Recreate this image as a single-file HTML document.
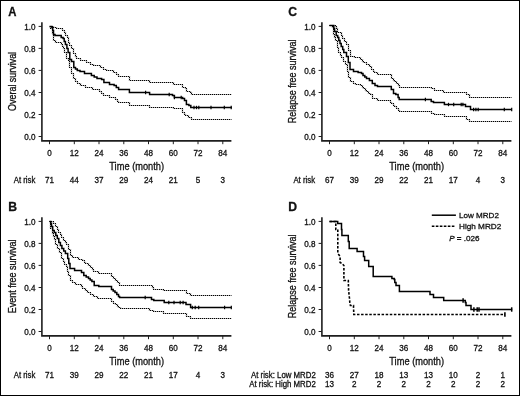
<!DOCTYPE html>
<html><head><meta charset="utf-8"><style>
html,body{margin:0;padding:0;background:#fff;}
#fig{position:relative;width:520px;height:396px;box-sizing:border-box;border:1px solid #000;overflow:hidden;background:#fff;}
svg{position:absolute;left:-1px;top:-1px;will-change:transform;}
text{font-family:"Liberation Sans", sans-serif;fill:#111;stroke:#111;stroke-width:0.3px;}
</style></head><body>
<div id="fig"><svg width="520" height="396" viewBox="0 0 520 396">
<path d="M41.9,22.3 V140.9 H231.4" fill="none" stroke="#1e1e1e" stroke-width="1.6"/>
<line x1="38.6" y1="136.5" x2="41.9" y2="136.5" stroke="#1e1e1e" stroke-width="1"/>
<text x="35.60" y="139.60" text-anchor="end" font-size="8.8" textLength="11.25" lengthAdjust="spacingAndGlyphs">0.0</text>
<line x1="38.6" y1="114.5" x2="41.9" y2="114.5" stroke="#1e1e1e" stroke-width="1"/>
<text x="35.60" y="117.58" text-anchor="end" font-size="8.8" textLength="11.25" lengthAdjust="spacingAndGlyphs">0.2</text>
<line x1="38.6" y1="92.5" x2="41.9" y2="92.5" stroke="#1e1e1e" stroke-width="1"/>
<text x="35.60" y="95.56" text-anchor="end" font-size="8.8" textLength="11.25" lengthAdjust="spacingAndGlyphs">0.4</text>
<line x1="38.6" y1="70.4" x2="41.9" y2="70.4" stroke="#1e1e1e" stroke-width="1"/>
<text x="35.60" y="73.54" text-anchor="end" font-size="8.8" textLength="11.25" lengthAdjust="spacingAndGlyphs">0.6</text>
<line x1="38.6" y1="48.4" x2="41.9" y2="48.4" stroke="#1e1e1e" stroke-width="1"/>
<text x="35.60" y="51.52" text-anchor="end" font-size="8.8" textLength="11.25" lengthAdjust="spacingAndGlyphs">0.8</text>
<line x1="38.6" y1="26.4" x2="41.9" y2="26.4" stroke="#1e1e1e" stroke-width="1"/>
<text x="35.60" y="29.50" text-anchor="end" font-size="8.8" textLength="11.25" lengthAdjust="spacingAndGlyphs">1.0</text>
<line x1="49.5" y1="140.9" x2="49.5" y2="144.2" stroke="#1e1e1e" stroke-width="1"/>
<text x="49.50" y="156.10" text-anchor="middle" font-size="8.8" textLength="4.50" lengthAdjust="spacingAndGlyphs">0</text>
<line x1="74.3" y1="140.9" x2="74.3" y2="144.2" stroke="#1e1e1e" stroke-width="1"/>
<text x="74.26" y="156.10" text-anchor="middle" font-size="8.8" textLength="9.01" lengthAdjust="spacingAndGlyphs">12</text>
<line x1="99.0" y1="140.9" x2="99.0" y2="144.2" stroke="#1e1e1e" stroke-width="1"/>
<text x="99.01" y="156.10" text-anchor="middle" font-size="8.8" textLength="9.01" lengthAdjust="spacingAndGlyphs">24</text>
<line x1="123.8" y1="140.9" x2="123.8" y2="144.2" stroke="#1e1e1e" stroke-width="1"/>
<text x="123.77" y="156.10" text-anchor="middle" font-size="8.8" textLength="9.01" lengthAdjust="spacingAndGlyphs">36</text>
<line x1="148.5" y1="140.9" x2="148.5" y2="144.2" stroke="#1e1e1e" stroke-width="1"/>
<text x="148.53" y="156.10" text-anchor="middle" font-size="8.8" textLength="9.01" lengthAdjust="spacingAndGlyphs">48</text>
<line x1="173.3" y1="140.9" x2="173.3" y2="144.2" stroke="#1e1e1e" stroke-width="1"/>
<text x="173.29" y="156.10" text-anchor="middle" font-size="8.8" textLength="9.01" lengthAdjust="spacingAndGlyphs">60</text>
<line x1="198.0" y1="140.9" x2="198.0" y2="144.2" stroke="#1e1e1e" stroke-width="1"/>
<text x="198.04" y="156.10" text-anchor="middle" font-size="8.8" textLength="9.01" lengthAdjust="spacingAndGlyphs">72</text>
<line x1="222.8" y1="140.9" x2="222.8" y2="144.2" stroke="#1e1e1e" stroke-width="1"/>
<text x="222.80" y="156.10" text-anchor="middle" font-size="8.8" textLength="9.01" lengthAdjust="spacingAndGlyphs">84</text>
<text x="136.7" y="170.3" text-anchor="middle" font-size="10.2" textLength="54.8" lengthAdjust="spacingAndGlyphs">Time (month)</text>
<text transform="translate(15.6,81.4) rotate(-90)" x="0" y="0" text-anchor="middle" font-size="10.2" textLength="59" lengthAdjust="spacingAndGlyphs">Overal survival</text>
<text x="8.3" y="15.7" font-size="12.2" font-weight="bold" textLength="8.19" lengthAdjust="spacingAndGlyphs">A</text>
<text x="13.70" y="182.80" text-anchor="start" font-size="8.8" textLength="21.63" lengthAdjust="spacingAndGlyphs">At risk</text>
<text x="49.50" y="182.80" text-anchor="middle" font-size="8.8" textLength="9.01" lengthAdjust="spacingAndGlyphs">71</text>
<text x="74.26" y="182.80" text-anchor="middle" font-size="8.8" textLength="9.01" lengthAdjust="spacingAndGlyphs">44</text>
<text x="99.01" y="182.80" text-anchor="middle" font-size="8.8" textLength="9.01" lengthAdjust="spacingAndGlyphs">37</text>
<text x="123.77" y="182.80" text-anchor="middle" font-size="8.8" textLength="9.01" lengthAdjust="spacingAndGlyphs">29</text>
<text x="148.53" y="182.80" text-anchor="middle" font-size="8.8" textLength="9.01" lengthAdjust="spacingAndGlyphs">24</text>
<text x="173.29" y="182.80" text-anchor="middle" font-size="8.8" textLength="9.01" lengthAdjust="spacingAndGlyphs">21</text>
<text x="198.04" y="182.80" text-anchor="middle" font-size="8.8" textLength="4.50" lengthAdjust="spacingAndGlyphs">5</text>
<text x="222.80" y="182.80" text-anchor="middle" font-size="8.8" textLength="4.50" lengthAdjust="spacingAndGlyphs">3</text>
<path d="M41.9,217.3 V335.9 H231.4" fill="none" stroke="#1e1e1e" stroke-width="1.6"/>
<line x1="38.6" y1="331.5" x2="41.9" y2="331.5" stroke="#1e1e1e" stroke-width="1"/>
<text x="35.60" y="334.60" text-anchor="end" font-size="8.8" textLength="11.25" lengthAdjust="spacingAndGlyphs">0.0</text>
<line x1="38.6" y1="309.5" x2="41.9" y2="309.5" stroke="#1e1e1e" stroke-width="1"/>
<text x="35.60" y="312.58" text-anchor="end" font-size="8.8" textLength="11.25" lengthAdjust="spacingAndGlyphs">0.2</text>
<line x1="38.6" y1="287.5" x2="41.9" y2="287.5" stroke="#1e1e1e" stroke-width="1"/>
<text x="35.60" y="290.56" text-anchor="end" font-size="8.8" textLength="11.25" lengthAdjust="spacingAndGlyphs">0.4</text>
<line x1="38.6" y1="265.4" x2="41.9" y2="265.4" stroke="#1e1e1e" stroke-width="1"/>
<text x="35.60" y="268.54" text-anchor="end" font-size="8.8" textLength="11.25" lengthAdjust="spacingAndGlyphs">0.6</text>
<line x1="38.6" y1="243.4" x2="41.9" y2="243.4" stroke="#1e1e1e" stroke-width="1"/>
<text x="35.60" y="246.52" text-anchor="end" font-size="8.8" textLength="11.25" lengthAdjust="spacingAndGlyphs">0.8</text>
<line x1="38.6" y1="221.4" x2="41.9" y2="221.4" stroke="#1e1e1e" stroke-width="1"/>
<text x="35.60" y="224.50" text-anchor="end" font-size="8.8" textLength="11.25" lengthAdjust="spacingAndGlyphs">1.0</text>
<line x1="49.5" y1="335.9" x2="49.5" y2="339.2" stroke="#1e1e1e" stroke-width="1"/>
<text x="49.50" y="351.10" text-anchor="middle" font-size="8.8" textLength="4.50" lengthAdjust="spacingAndGlyphs">0</text>
<line x1="74.3" y1="335.9" x2="74.3" y2="339.2" stroke="#1e1e1e" stroke-width="1"/>
<text x="74.26" y="351.10" text-anchor="middle" font-size="8.8" textLength="9.01" lengthAdjust="spacingAndGlyphs">12</text>
<line x1="99.0" y1="335.9" x2="99.0" y2="339.2" stroke="#1e1e1e" stroke-width="1"/>
<text x="99.01" y="351.10" text-anchor="middle" font-size="8.8" textLength="9.01" lengthAdjust="spacingAndGlyphs">24</text>
<line x1="123.8" y1="335.9" x2="123.8" y2="339.2" stroke="#1e1e1e" stroke-width="1"/>
<text x="123.77" y="351.10" text-anchor="middle" font-size="8.8" textLength="9.01" lengthAdjust="spacingAndGlyphs">36</text>
<line x1="148.5" y1="335.9" x2="148.5" y2="339.2" stroke="#1e1e1e" stroke-width="1"/>
<text x="148.53" y="351.10" text-anchor="middle" font-size="8.8" textLength="9.01" lengthAdjust="spacingAndGlyphs">48</text>
<line x1="173.3" y1="335.9" x2="173.3" y2="339.2" stroke="#1e1e1e" stroke-width="1"/>
<text x="173.29" y="351.10" text-anchor="middle" font-size="8.8" textLength="9.01" lengthAdjust="spacingAndGlyphs">60</text>
<line x1="198.0" y1="335.9" x2="198.0" y2="339.2" stroke="#1e1e1e" stroke-width="1"/>
<text x="198.04" y="351.10" text-anchor="middle" font-size="8.8" textLength="9.01" lengthAdjust="spacingAndGlyphs">72</text>
<line x1="222.8" y1="335.9" x2="222.8" y2="339.2" stroke="#1e1e1e" stroke-width="1"/>
<text x="222.80" y="351.10" text-anchor="middle" font-size="8.8" textLength="9.01" lengthAdjust="spacingAndGlyphs">84</text>
<text x="136.7" y="365.3" text-anchor="middle" font-size="10.2" textLength="54.8" lengthAdjust="spacingAndGlyphs">Time (month)</text>
<text transform="translate(15.6,276.4) rotate(-90)" x="0" y="0" text-anchor="middle" font-size="10.2" textLength="73.8" lengthAdjust="spacingAndGlyphs">Event free survival</text>
<text x="8.3" y="210.7" font-size="12.2" font-weight="bold" textLength="8.81" lengthAdjust="spacingAndGlyphs">B</text>
<text x="13.70" y="377.80" text-anchor="start" font-size="8.8" textLength="21.63" lengthAdjust="spacingAndGlyphs">At risk</text>
<text x="49.50" y="377.80" text-anchor="middle" font-size="8.8" textLength="9.01" lengthAdjust="spacingAndGlyphs">71</text>
<text x="74.26" y="377.80" text-anchor="middle" font-size="8.8" textLength="9.01" lengthAdjust="spacingAndGlyphs">39</text>
<text x="99.01" y="377.80" text-anchor="middle" font-size="8.8" textLength="9.01" lengthAdjust="spacingAndGlyphs">29</text>
<text x="123.77" y="377.80" text-anchor="middle" font-size="8.8" textLength="9.01" lengthAdjust="spacingAndGlyphs">22</text>
<text x="148.53" y="377.80" text-anchor="middle" font-size="8.8" textLength="9.01" lengthAdjust="spacingAndGlyphs">21</text>
<text x="173.29" y="377.80" text-anchor="middle" font-size="8.8" textLength="9.01" lengthAdjust="spacingAndGlyphs">17</text>
<text x="198.04" y="377.80" text-anchor="middle" font-size="8.8" textLength="4.50" lengthAdjust="spacingAndGlyphs">4</text>
<text x="222.80" y="377.80" text-anchor="middle" font-size="8.8" textLength="4.50" lengthAdjust="spacingAndGlyphs">3</text>
<path d="M321.9,22.3 V140.9 H511.4" fill="none" stroke="#1e1e1e" stroke-width="1.6"/>
<line x1="318.6" y1="136.5" x2="321.9" y2="136.5" stroke="#1e1e1e" stroke-width="1"/>
<text x="315.60" y="139.60" text-anchor="end" font-size="8.8" textLength="11.25" lengthAdjust="spacingAndGlyphs">0.0</text>
<line x1="318.6" y1="114.5" x2="321.9" y2="114.5" stroke="#1e1e1e" stroke-width="1"/>
<text x="315.60" y="117.58" text-anchor="end" font-size="8.8" textLength="11.25" lengthAdjust="spacingAndGlyphs">0.2</text>
<line x1="318.6" y1="92.5" x2="321.9" y2="92.5" stroke="#1e1e1e" stroke-width="1"/>
<text x="315.60" y="95.56" text-anchor="end" font-size="8.8" textLength="11.25" lengthAdjust="spacingAndGlyphs">0.4</text>
<line x1="318.6" y1="70.4" x2="321.9" y2="70.4" stroke="#1e1e1e" stroke-width="1"/>
<text x="315.60" y="73.54" text-anchor="end" font-size="8.8" textLength="11.25" lengthAdjust="spacingAndGlyphs">0.6</text>
<line x1="318.6" y1="48.4" x2="321.9" y2="48.4" stroke="#1e1e1e" stroke-width="1"/>
<text x="315.60" y="51.52" text-anchor="end" font-size="8.8" textLength="11.25" lengthAdjust="spacingAndGlyphs">0.8</text>
<line x1="318.6" y1="26.4" x2="321.9" y2="26.4" stroke="#1e1e1e" stroke-width="1"/>
<text x="315.60" y="29.50" text-anchor="end" font-size="8.8" textLength="11.25" lengthAdjust="spacingAndGlyphs">1.0</text>
<line x1="329.5" y1="140.9" x2="329.5" y2="144.2" stroke="#1e1e1e" stroke-width="1"/>
<text x="329.50" y="156.10" text-anchor="middle" font-size="8.8" textLength="4.50" lengthAdjust="spacingAndGlyphs">0</text>
<line x1="354.3" y1="140.9" x2="354.3" y2="144.2" stroke="#1e1e1e" stroke-width="1"/>
<text x="354.26" y="156.10" text-anchor="middle" font-size="8.8" textLength="9.01" lengthAdjust="spacingAndGlyphs">12</text>
<line x1="379.0" y1="140.9" x2="379.0" y2="144.2" stroke="#1e1e1e" stroke-width="1"/>
<text x="379.01" y="156.10" text-anchor="middle" font-size="8.8" textLength="9.01" lengthAdjust="spacingAndGlyphs">24</text>
<line x1="403.8" y1="140.9" x2="403.8" y2="144.2" stroke="#1e1e1e" stroke-width="1"/>
<text x="403.77" y="156.10" text-anchor="middle" font-size="8.8" textLength="9.01" lengthAdjust="spacingAndGlyphs">36</text>
<line x1="428.5" y1="140.9" x2="428.5" y2="144.2" stroke="#1e1e1e" stroke-width="1"/>
<text x="428.53" y="156.10" text-anchor="middle" font-size="8.8" textLength="9.01" lengthAdjust="spacingAndGlyphs">48</text>
<line x1="453.3" y1="140.9" x2="453.3" y2="144.2" stroke="#1e1e1e" stroke-width="1"/>
<text x="453.29" y="156.10" text-anchor="middle" font-size="8.8" textLength="9.01" lengthAdjust="spacingAndGlyphs">60</text>
<line x1="478.0" y1="140.9" x2="478.0" y2="144.2" stroke="#1e1e1e" stroke-width="1"/>
<text x="478.04" y="156.10" text-anchor="middle" font-size="8.8" textLength="9.01" lengthAdjust="spacingAndGlyphs">72</text>
<line x1="502.8" y1="140.9" x2="502.8" y2="144.2" stroke="#1e1e1e" stroke-width="1"/>
<text x="502.80" y="156.10" text-anchor="middle" font-size="8.8" textLength="9.01" lengthAdjust="spacingAndGlyphs">84</text>
<text x="416.7" y="170.3" text-anchor="middle" font-size="10.2" textLength="54.8" lengthAdjust="spacingAndGlyphs">Time (month)</text>
<text transform="translate(295.6,81.4) rotate(-90)" x="0" y="0" text-anchor="middle" font-size="10.2" textLength="83.6" lengthAdjust="spacingAndGlyphs">Relapse free survival</text>
<text x="288.3" y="15.7" font-size="12.2" font-weight="bold" textLength="8.81" lengthAdjust="spacingAndGlyphs">C</text>
<text x="293.40" y="182.80" text-anchor="start" font-size="8.8" textLength="21.63" lengthAdjust="spacingAndGlyphs">At risk</text>
<text x="329.50" y="182.80" text-anchor="middle" font-size="8.8" textLength="9.01" lengthAdjust="spacingAndGlyphs">67</text>
<text x="354.26" y="182.80" text-anchor="middle" font-size="8.8" textLength="9.01" lengthAdjust="spacingAndGlyphs">39</text>
<text x="379.01" y="182.80" text-anchor="middle" font-size="8.8" textLength="9.01" lengthAdjust="spacingAndGlyphs">29</text>
<text x="403.77" y="182.80" text-anchor="middle" font-size="8.8" textLength="9.01" lengthAdjust="spacingAndGlyphs">22</text>
<text x="428.53" y="182.80" text-anchor="middle" font-size="8.8" textLength="9.01" lengthAdjust="spacingAndGlyphs">21</text>
<text x="453.29" y="182.80" text-anchor="middle" font-size="8.8" textLength="9.01" lengthAdjust="spacingAndGlyphs">17</text>
<text x="478.04" y="182.80" text-anchor="middle" font-size="8.8" textLength="4.50" lengthAdjust="spacingAndGlyphs">4</text>
<text x="502.80" y="182.80" text-anchor="middle" font-size="8.8" textLength="4.50" lengthAdjust="spacingAndGlyphs">3</text>
<path d="M321.9,217.3 V335.9 H511.4" fill="none" stroke="#1e1e1e" stroke-width="1.6"/>
<line x1="318.6" y1="331.5" x2="321.9" y2="331.5" stroke="#1e1e1e" stroke-width="1"/>
<text x="315.60" y="334.60" text-anchor="end" font-size="8.8" textLength="11.25" lengthAdjust="spacingAndGlyphs">0.0</text>
<line x1="318.6" y1="309.5" x2="321.9" y2="309.5" stroke="#1e1e1e" stroke-width="1"/>
<text x="315.60" y="312.58" text-anchor="end" font-size="8.8" textLength="11.25" lengthAdjust="spacingAndGlyphs">0.2</text>
<line x1="318.6" y1="287.5" x2="321.9" y2="287.5" stroke="#1e1e1e" stroke-width="1"/>
<text x="315.60" y="290.56" text-anchor="end" font-size="8.8" textLength="11.25" lengthAdjust="spacingAndGlyphs">0.4</text>
<line x1="318.6" y1="265.4" x2="321.9" y2="265.4" stroke="#1e1e1e" stroke-width="1"/>
<text x="315.60" y="268.54" text-anchor="end" font-size="8.8" textLength="11.25" lengthAdjust="spacingAndGlyphs">0.6</text>
<line x1="318.6" y1="243.4" x2="321.9" y2="243.4" stroke="#1e1e1e" stroke-width="1"/>
<text x="315.60" y="246.52" text-anchor="end" font-size="8.8" textLength="11.25" lengthAdjust="spacingAndGlyphs">0.8</text>
<line x1="318.6" y1="221.4" x2="321.9" y2="221.4" stroke="#1e1e1e" stroke-width="1"/>
<text x="315.60" y="224.50" text-anchor="end" font-size="8.8" textLength="11.25" lengthAdjust="spacingAndGlyphs">1.0</text>
<line x1="329.5" y1="335.9" x2="329.5" y2="339.2" stroke="#1e1e1e" stroke-width="1"/>
<text x="329.50" y="351.10" text-anchor="middle" font-size="8.8" textLength="4.50" lengthAdjust="spacingAndGlyphs">0</text>
<line x1="354.3" y1="335.9" x2="354.3" y2="339.2" stroke="#1e1e1e" stroke-width="1"/>
<text x="354.26" y="351.10" text-anchor="middle" font-size="8.8" textLength="9.01" lengthAdjust="spacingAndGlyphs">12</text>
<line x1="379.0" y1="335.9" x2="379.0" y2="339.2" stroke="#1e1e1e" stroke-width="1"/>
<text x="379.01" y="351.10" text-anchor="middle" font-size="8.8" textLength="9.01" lengthAdjust="spacingAndGlyphs">24</text>
<line x1="403.8" y1="335.9" x2="403.8" y2="339.2" stroke="#1e1e1e" stroke-width="1"/>
<text x="403.77" y="351.10" text-anchor="middle" font-size="8.8" textLength="9.01" lengthAdjust="spacingAndGlyphs">36</text>
<line x1="428.5" y1="335.9" x2="428.5" y2="339.2" stroke="#1e1e1e" stroke-width="1"/>
<text x="428.53" y="351.10" text-anchor="middle" font-size="8.8" textLength="9.01" lengthAdjust="spacingAndGlyphs">48</text>
<line x1="453.3" y1="335.9" x2="453.3" y2="339.2" stroke="#1e1e1e" stroke-width="1"/>
<text x="453.29" y="351.10" text-anchor="middle" font-size="8.8" textLength="9.01" lengthAdjust="spacingAndGlyphs">60</text>
<line x1="478.0" y1="335.9" x2="478.0" y2="339.2" stroke="#1e1e1e" stroke-width="1"/>
<text x="478.04" y="351.10" text-anchor="middle" font-size="8.8" textLength="9.01" lengthAdjust="spacingAndGlyphs">72</text>
<line x1="502.8" y1="335.9" x2="502.8" y2="339.2" stroke="#1e1e1e" stroke-width="1"/>
<text x="502.80" y="351.10" text-anchor="middle" font-size="8.8" textLength="9.01" lengthAdjust="spacingAndGlyphs">84</text>
<text x="416.7" y="365.3" text-anchor="middle" font-size="10.2" textLength="54.8" lengthAdjust="spacingAndGlyphs">Time (month)</text>
<text transform="translate(295.6,276.4) rotate(-90)" x="0" y="0" text-anchor="middle" font-size="10.2" textLength="83.6" lengthAdjust="spacingAndGlyphs">Relapse free survival</text>
<text x="288.3" y="210.7" font-size="12.2" font-weight="bold" textLength="8.81" lengthAdjust="spacingAndGlyphs">D</text>
<text x="315.80" y="377.50" text-anchor="end" font-size="8.8" textLength="64.84" lengthAdjust="spacingAndGlyphs">At risk: Low MRD2</text>
<text x="329.50" y="377.50" text-anchor="middle" font-size="8.8" textLength="9.01" lengthAdjust="spacingAndGlyphs">36</text>
<text x="354.26" y="377.50" text-anchor="middle" font-size="8.8" textLength="9.01" lengthAdjust="spacingAndGlyphs">27</text>
<text x="379.01" y="377.50" text-anchor="middle" font-size="8.8" textLength="9.01" lengthAdjust="spacingAndGlyphs">18</text>
<text x="403.77" y="377.50" text-anchor="middle" font-size="8.8" textLength="9.01" lengthAdjust="spacingAndGlyphs">13</text>
<text x="428.53" y="377.50" text-anchor="middle" font-size="8.8" textLength="9.01" lengthAdjust="spacingAndGlyphs">13</text>
<text x="453.29" y="377.50" text-anchor="middle" font-size="8.8" textLength="9.01" lengthAdjust="spacingAndGlyphs">10</text>
<text x="478.04" y="377.50" text-anchor="middle" font-size="8.8" textLength="4.50" lengthAdjust="spacingAndGlyphs">2</text>
<text x="502.80" y="377.50" text-anchor="middle" font-size="8.8" textLength="4.50" lengthAdjust="spacingAndGlyphs">1</text>
<text x="315.80" y="386.70" text-anchor="end" font-size="8.8" textLength="66.58" lengthAdjust="spacingAndGlyphs">At risk: High MRD2</text>
<text x="329.50" y="386.70" text-anchor="middle" font-size="8.8" textLength="9.01" lengthAdjust="spacingAndGlyphs">13</text>
<text x="354.26" y="386.70" text-anchor="middle" font-size="8.8" textLength="4.50" lengthAdjust="spacingAndGlyphs">2</text>
<text x="379.01" y="386.70" text-anchor="middle" font-size="8.8" textLength="4.50" lengthAdjust="spacingAndGlyphs">2</text>
<text x="403.77" y="386.70" text-anchor="middle" font-size="8.8" textLength="4.50" lengthAdjust="spacingAndGlyphs">2</text>
<text x="428.53" y="386.70" text-anchor="middle" font-size="8.8" textLength="4.50" lengthAdjust="spacingAndGlyphs">2</text>
<text x="453.29" y="386.70" text-anchor="middle" font-size="8.8" textLength="4.50" lengthAdjust="spacingAndGlyphs">2</text>
<text x="478.04" y="386.70" text-anchor="middle" font-size="8.8" textLength="4.50" lengthAdjust="spacingAndGlyphs">2</text>
<text x="502.80" y="386.70" text-anchor="middle" font-size="8.8" textLength="4.50" lengthAdjust="spacingAndGlyphs">2</text>
<defs><pattern id="chk" width="2" height="2" patternUnits="userSpaceOnUse"><rect x="0" y="0" width="1" height="1" fill="#fff"/><rect x="1" y="1" width="1" height="1" fill="#fff"/><rect x="1" y="0" width="1" height="1" fill="#555"/><rect x="0" y="1" width="1" height="1" fill="#555"/></pattern><mask id="dm" maskUnits="userSpaceOnUse" x="0" y="0" width="520" height="396"><rect x="0" y="0" width="520" height="396" fill="url(#chk)"/></mask></defs>
<g mask="url(#dm)">
<polyline points="49.5,26.5 53.5,26.5 53.5,27.5 56.5,27.5 56.5,28.5 60.5,28.5 62.5,28.5 62.5,30.5 64.5,30.5 64.5,32.5 65.5,32.5 65.5,33.5 65.5,35.5 67.5,35.5 67.5,37.5 68.5,37.5 68.5,38.5 68.5,42.5 69.5,42.5 69.5,45.5 71.5,45.5 71.5,48.5 73.5,48.5 73.5,53.5 75.5,53.5 75.5,56.5 76.5,56.5 76.5,58.5 80.5,58.5 80.5,60.5 86.5,60.5 86.5,62.5 90.5,62.5 90.5,64.5 93.5,64.5 93.5,65.5 100.5,65.5 100.5,67.5 103.5,67.5 103.5,69.5 106.5,69.5 106.5,70.5 113.5,70.5 113.5,72.5 116.5,72.5 116.5,74.5 118.5,74.5 118.5,76.5 127.5,76.5 129.5,76.5 129.5,80.5 148.5,80.5 149.5,80.5 149.5,82.5 172.5,82.5 173.5,82.5 173.5,84.5 181.5,84.5 182.5,84.5 182.5,87.5 185.5,87.5 185.5,88.5 186.5,88.5 186.5,91.5 190.5,91.5 190.5,92.5 191.5,92.5 191.5,94.5 231.5,94.5" fill="none" stroke="#000" stroke-width="1.2"/>
<polyline points="49.5,26.5 50.5,26.5 50.5,28.5 52.5,28.5 52.5,33.5 53.5,33.5 53.5,37.5 53.5,40.5 55.5,40.5 55.5,42.5 58.5,42.5 61.5,42.5 61.5,44.5 62.5,44.5 62.5,46.5 63.5,46.5 63.5,48.5 64.5,48.5 64.5,52.5 66.5,52.5 66.5,58.5 68.5,58.5 68.5,60.5 69.5,60.5 69.5,67.5 71.5,67.5 71.5,73.5 73.5,73.5 73.5,78.5 75.5,78.5 75.5,81.5 77.5,81.5 77.5,83.5 80.5,83.5 80.5,85.5 85.5,85.5 85.5,87.5 92.5,87.5 92.5,89.5 99.5,89.5 99.5,91.5 101.5,91.5 101.5,93.5 103.5,93.5 103.5,95.5 109.5,95.5 109.5,97.5 115.5,97.5 115.5,99.5 117.5,99.5 117.5,101.5 118.5,101.5 118.5,102.5 127.5,102.5 129.5,102.5 129.5,105.5 148.5,105.5 149.5,105.5 149.5,107.5 172.5,107.5 173.5,107.5 173.5,108.5 181.5,108.5 182.5,108.5 182.5,112.5 184.5,112.5 184.5,114.5 185.5,114.5 185.5,115.5 188.5,115.5 188.5,117.5 191.5,117.5 191.5,119.5 231.5,119.5" fill="none" stroke="#000" stroke-width="1.2"/>
<polyline points="49.5,221.5 51.5,221.5 53.5,221.5 53.5,223.5 55.5,223.5 55.5,226.5 57.5,226.5 57.5,229.5 58.5,229.5 58.5,232.5 60.5,232.5 60.5,234.5 61.5,234.5 61.5,237.5 63.5,237.5 63.5,240.5 65.5,240.5 65.5,242.5 66.5,242.5 66.5,244.5 68.5,244.5 68.5,249.5 70.5,249.5 70.5,255.5 72.5,255.5 72.5,257.5 78.5,257.5 78.5,259.5 82.5,259.5 82.5,260.5 84.5,260.5 84.5,262.5 85.5,262.5 85.5,263.5 88.5,263.5 88.5,265.5 90.5,265.5 90.5,267.5 92.5,267.5 92.5,269.5 93.5,269.5 93.5,271.5 98.5,271.5 98.5,273.5 109.5,273.5 111.5,273.5 111.5,276.5 113.5,276.5 113.5,278.5 115.5,278.5 115.5,280.5 117.5,280.5 117.5,282.5 119.5,282.5 119.5,285.5 148.5,285.5 152.5,285.5 152.5,287.5 153.5,287.5 153.5,289.5 162.5,289.5 163.5,289.5 163.5,290.5 186.5,290.5 186.5,293.5 189.5,293.5 190.5,293.5 190.5,295.5 231.5,295.5" fill="none" stroke="#000" stroke-width="1.2"/>
<polyline points="49.5,221.5 50.5,221.5 50.5,224.5 50.5,228.5 52.5,228.5 52.5,233.5 53.5,233.5 53.5,236.5 54.5,236.5 54.5,239.5 55.5,239.5 55.5,242.5 55.5,244.5 57.5,244.5 57.5,248.5 59.5,248.5 59.5,252.5 61.5,252.5 61.5,258.5 63.5,258.5 63.5,261.5 64.5,261.5 64.5,264.5 66.5,264.5 66.5,266.5 67.5,266.5 67.5,271.5 68.5,271.5 68.5,275.5 70.5,275.5 70.5,280.5 72.5,280.5 72.5,282.5 75.5,282.5 75.5,284.5 79.5,284.5 81.5,284.5 81.5,286.5 82.5,286.5 82.5,288.5 85.5,288.5 85.5,290.5 87.5,290.5 87.5,292.5 90.5,292.5 90.5,294.5 93.5,294.5 93.5,296.5 97.5,296.5 97.5,298.5 109.5,298.5 111.5,298.5 111.5,301.5 113.5,301.5 113.5,303.5 115.5,303.5 115.5,304.5 117.5,304.5 117.5,306.5 118.5,306.5 118.5,307.5 120.5,307.5 120.5,308.5 148.5,308.5 149.5,308.5 149.5,310.5 153.5,310.5 153.5,311.5 162.5,311.5 163.5,311.5 163.5,313.5 185.5,313.5 186.5,313.5 186.5,316.5 189.5,316.5 190.5,316.5 190.5,318.5 231.5,318.5" fill="none" stroke="#000" stroke-width="1.2"/>
<polyline points="329.5,25.5 333.5,25.5 335.5,25.5 335.5,26.5 336.5,26.5 336.5,28.5 337.5,28.5 337.5,32.5 340.5,32.5 341.5,32.5 341.5,35.5 342.5,35.5 342.5,38.5 344.5,38.5 344.5,41.5 346.5,41.5 346.5,44.5 348.5,44.5 348.5,46.5 348.5,50.5 350.5,50.5 350.5,56.5 354.5,56.5 354.5,57.5 360.5,57.5 360.5,59.5 362.5,59.5 362.5,61.5 363.5,61.5 363.5,62.5 366.5,62.5 366.5,64.5 369.5,64.5 369.5,66.5 371.5,66.5 371.5,69.5 373.5,69.5 373.5,71.5 374.5,71.5 374.5,72.5 377.5,72.5 377.5,74.5 389.5,74.5 391.5,74.5 391.5,78.5 393.5,78.5 393.5,80.5 394.5,80.5 394.5,81.5 396.5,81.5 396.5,83.5 398.5,83.5 398.5,85.5 399.5,85.5 399.5,87.5 428.5,87.5 431.5,87.5 431.5,88.5 434.5,88.5 434.5,90.5 442.5,90.5 443.5,90.5 443.5,92.5 464.5,92.5 466.5,92.5 466.5,94.5 469.5,94.5 469.5,95.5 469.5,97.5 511.5,97.5" fill="none" stroke="#000" stroke-width="1.2"/>
<polyline points="329.5,25.5 332.5,25.5 332.5,27.5 333.5,27.5 333.5,31.5 333.5,34.5 334.5,34.5 334.5,37.5 335.5,37.5 335.5,40.5 337.5,40.5 337.5,44.5 337.5,47.5 338.5,47.5 338.5,52.5 340.5,52.5 340.5,55.5 341.5,55.5 341.5,57.5 343.5,57.5 343.5,61.5 345.5,61.5 345.5,64.5 347.5,64.5 347.5,71.5 348.5,71.5 348.5,77.5 350.5,77.5 350.5,81.5 353.5,81.5 353.5,83.5 355.5,83.5 355.5,84.5 360.5,84.5 360.5,85.5 362.5,85.5 362.5,87.5 363.5,87.5 363.5,88.5 365.5,88.5 365.5,90.5 366.5,90.5 366.5,91.5 368.5,91.5 368.5,93.5 370.5,93.5 370.5,94.5 372.5,94.5 372.5,98.5 377.5,98.5 377.5,100.5 388.5,100.5 390.5,100.5 390.5,102.5 391.5,102.5 391.5,103.5 393.5,103.5 393.5,105.5 394.5,105.5 394.5,106.5 396.5,106.5 396.5,108.5 398.5,108.5 398.5,110.5 399.5,110.5 399.5,111.5 428.5,111.5 431.5,111.5 431.5,113.5 434.5,113.5 434.5,114.5 442.5,114.5 444.5,114.5 444.5,116.5 464.5,116.5 466.5,116.5 466.5,119.5 469.5,119.5 469.5,121.5 511.5,121.5" fill="none" stroke="#000" stroke-width="1.2"/>
</g>
<polyline points="49.5,26.5 51.9,26.5 51.9,27.5 52.7,27.5 52.7,30.5 53.5,30.5 53.5,34.5 55.0,34.5 55.0,35.5 59.6,35.5 61.2,35.5 61.2,37.5 63.1,37.5 63.1,38.5 64.2,38.5 64.2,41.5 65.4,41.5 65.4,44.5 66.9,44.5 66.9,48.5 68.1,48.5 68.1,52.5 69.8,52.5 69.8,59.5 71.5,59.5 71.5,61.5 73.8,61.5 73.8,67.5 75.5,67.5 75.5,69.0 77.3,69.0 77.3,70.5 80.0,70.5 80.0,71.5 84.5,71.5 84.5,73.5 91.4,73.5 91.4,75.5 94.2,75.5 94.2,77.0 97.0,77.0 97.0,78.5 101.6,78.5 101.6,79.5 103.9,79.5 103.9,82.5 109.5,82.5 109.5,84.5 114.1,84.5 114.1,85.5 116.3,85.5 116.3,87.5 118.6,87.5 118.6,89.5 126.5,89.5 129.4,89.5 129.4,92.5 148.5,92.5 149.6,92.5 149.6,94.5 169.2,94.5 172.5,94.5 172.5,95.5 174.4,95.5 174.4,97.5 180.1,97.5 182.6,97.5 182.6,98.5 184.5,98.5 184.5,100.5 186.4,100.5 186.4,104.5 188.9,104.5 188.9,105.5 190.8,105.5 190.8,107.5 231.9,107.5" fill="none" stroke="#000" stroke-width="1.5" stroke-linejoin="miter" stroke-linecap="butt"/>
<polyline points="49.5,221.5 50.8,221.5 50.8,223.5 51.5,223.5 51.5,226.5 52.7,226.5 52.7,230.5 54.2,230.5 54.2,232.5 55.8,232.5 55.8,235.5 57.3,235.5 57.3,238.5 58.8,238.5 58.8,242.5 60.4,242.5 60.4,245.5 61.9,245.5 61.9,248.5 63.7,248.5 63.7,251.0 65.4,251.0 65.4,253.5 67.7,253.5 67.7,258.5 68.8,258.5 68.8,263.5 70.0,263.5 70.0,268.5 74.6,268.5 74.6,270.5 81.5,270.5 81.5,272.5 83.8,272.5 83.8,275.5 86.2,275.5 86.2,277.0 88.5,277.0 88.5,278.5 90.2,278.5 90.2,280.0 91.9,280.0 91.9,281.5 94.2,281.5 94.2,285.5 98.8,285.5 98.8,286.5 109.8,286.5 111.5,286.5 111.5,289.5 113.2,289.5 113.2,291.0 115.0,291.0 115.0,292.5 116.8,292.5 116.8,294.5 118.5,294.5 118.5,296.5 119.6,296.5 119.6,297.5 145.2,297.5 149.2,297.5 151.5,297.5 151.5,299.5 153.8,299.5 153.8,300.5 163.1,300.5 164.2,300.5 164.2,302.5 184.8,302.5 186.0,302.5 186.0,304.5 189.4,304.5 190.6,304.5 190.6,307.5 231.5,307.5" fill="none" stroke="#000" stroke-width="1.5" stroke-linejoin="miter" stroke-linecap="butt"/>
<polyline points="329.5,25.5 333.5,25.5 333.8,25.5 333.8,28.5 334.6,28.5 334.6,31.5 336.2,31.5 336.2,35.5 337.7,35.5 337.7,37.5 338.8,37.5 338.8,40.5 340.0,40.5 340.0,43.5 341.2,43.5 341.2,46.5 342.7,46.5 342.7,49.5 343.8,49.5 343.8,52.5 346.5,52.5 346.5,56.5 348.3,56.5 348.3,62.5 350.0,62.5 350.0,69.5 353.5,69.5 353.5,71.5 358.1,71.5 358.1,72.5 361.5,72.5 361.5,73.5 363.0,73.5 363.0,75.5 364.8,75.5 364.8,77.0 366.5,77.0 366.5,78.5 369.4,78.5 369.4,80.5 372.3,80.5 372.3,83.5 375.0,83.5 375.0,85.5 377.5,85.5 377.5,86.5 389.3,86.5 391.3,86.5 391.3,89.5 393.5,89.5 393.5,93.5 395.8,93.5 395.8,94.5 398.1,94.5 398.1,97.5 399.2,97.5 399.2,99.5 428.8,99.5 431.2,99.5 431.2,101.5 433.5,101.5 433.5,102.5 442.7,102.5 444.4,102.5 444.4,104.5 464.5,104.5 465.5,104.5 465.5,106.5 469.5,106.5 470.5,106.5 470.5,109.5 511.7,109.5" fill="none" stroke="#000" stroke-width="1.5" stroke-linejoin="miter" stroke-linecap="butt"/>
<line x1="145.6" y1="90.8" x2="145.6" y2="94.2" stroke="#000" stroke-width="1.2"/>
<line x1="169.2" y1="92.8" x2="169.2" y2="96.2" stroke="#000" stroke-width="1.2"/>
<line x1="174.4" y1="95.8" x2="174.4" y2="99.2" stroke="#000" stroke-width="1.2"/>
<line x1="181.2" y1="95.8" x2="181.2" y2="99.2" stroke="#000" stroke-width="1.2"/>
<line x1="194.0" y1="105.8" x2="194.0" y2="109.2" stroke="#000" stroke-width="1.2"/>
<line x1="196.5" y1="105.8" x2="196.5" y2="109.2" stroke="#000" stroke-width="1.2"/>
<line x1="198.8" y1="105.8" x2="198.8" y2="109.2" stroke="#000" stroke-width="1.2"/>
<line x1="211.0" y1="105.8" x2="211.0" y2="109.2" stroke="#000" stroke-width="1.2"/>
<line x1="224.3" y1="105.8" x2="224.3" y2="109.2" stroke="#000" stroke-width="1.2"/>
<line x1="231.2" y1="105.8" x2="231.2" y2="109.2" stroke="#000" stroke-width="1.2"/>
<line x1="145.2" y1="295.8" x2="145.2" y2="299.2" stroke="#000" stroke-width="1.2"/>
<line x1="168.8" y1="300.8" x2="168.8" y2="304.2" stroke="#000" stroke-width="1.2"/>
<line x1="174.0" y1="300.8" x2="174.0" y2="304.2" stroke="#000" stroke-width="1.2"/>
<line x1="180.2" y1="300.8" x2="180.2" y2="304.2" stroke="#000" stroke-width="1.2"/>
<line x1="183.1" y1="300.8" x2="183.1" y2="304.2" stroke="#000" stroke-width="1.2"/>
<line x1="192.3" y1="305.8" x2="192.3" y2="309.2" stroke="#000" stroke-width="1.2"/>
<line x1="195.2" y1="305.8" x2="195.2" y2="309.2" stroke="#000" stroke-width="1.2"/>
<line x1="198.7" y1="305.8" x2="198.7" y2="309.2" stroke="#000" stroke-width="1.2"/>
<line x1="224.6" y1="305.8" x2="224.6" y2="309.2" stroke="#000" stroke-width="1.2"/>
<line x1="231.3" y1="305.8" x2="231.3" y2="309.2" stroke="#000" stroke-width="1.2"/>
<line x1="425.4" y1="97.8" x2="425.4" y2="101.2" stroke="#000" stroke-width="1.2"/>
<line x1="448.5" y1="102.8" x2="448.5" y2="106.2" stroke="#000" stroke-width="1.2"/>
<line x1="453.7" y1="102.8" x2="453.7" y2="106.2" stroke="#000" stroke-width="1.2"/>
<line x1="461.2" y1="102.8" x2="461.2" y2="106.2" stroke="#000" stroke-width="1.2"/>
<line x1="462.9" y1="102.8" x2="462.9" y2="106.2" stroke="#000" stroke-width="1.2"/>
<line x1="473.6" y1="107.8" x2="473.6" y2="111.2" stroke="#000" stroke-width="1.2"/>
<line x1="475.9" y1="107.8" x2="475.9" y2="111.2" stroke="#000" stroke-width="1.2"/>
<line x1="478.2" y1="107.8" x2="478.2" y2="111.2" stroke="#000" stroke-width="1.2"/>
<line x1="504.3" y1="107.8" x2="504.3" y2="111.2" stroke="#000" stroke-width="1.2"/>
<line x1="511.7" y1="107.8" x2="511.7" y2="111.2" stroke="#000" stroke-width="1.2"/>
<polyline points="329.5,221.5 335.8,221.5 335.8,229.5 337.8,229.5 337.8,253.5 339.4,255.5 340.1,256.5 340.1,262.5 342.0,263.5 343.9,265.5 343.9,280.5 348.3,280.5 348.6,290.5 349.5,298.5 349.9,303.5 350.4,305.5 353.5,305.5 353.8,314.5 505.0,314.5" fill="none" stroke="#000" stroke-width="1.6" stroke-dasharray="2.5 1.6"/>
<line x1="504.9" y1="312.3" x2="504.9" y2="316.7" stroke="#000" stroke-width="1.6"/>
<polyline points="329.5,221.5 337.3,221.5 337.7,221.5 337.7,223.5 341.0,223.5 341.5,223.5 341.5,229.5 341.9,229.5 341.9,235.5 347.7,235.5 348.3,235.5 348.3,241.5 349.2,241.5 349.2,248.5 356.3,248.5 357.1,248.5 357.1,251.5 362.4,251.5 363.5,251.5 363.5,256.5 364.6,256.5 364.6,260.5 368.1,260.5 368.7,260.5 368.7,266.5 372.1,266.5 373.2,266.5 373.2,276.5 391.4,276.5 391.9,276.5 391.9,278.5 394.2,278.5 394.2,279.5 394.8,279.5 394.8,282.5 396.0,282.5 396.0,285.5 398.3,285.5 399.4,285.5 399.4,291.5 428.8,291.5 430.0,291.5 430.0,294.5 432.9,294.5 433.5,294.5 433.5,297.5 443.2,297.5 443.7,297.5 443.7,300.5 463.8,300.5 465.3,300.5 465.3,302.5 466.0,302.5 466.0,305.5 470.3,305.5 471.0,305.5 471.0,309.5 512.2,309.5" fill="none" stroke="#000" stroke-width="1.5" stroke-linejoin="miter" stroke-linecap="butt"/>
<line x1="463.1" y1="298.3" x2="463.1" y2="302.7" stroke="#000" stroke-width="1.5"/>
<line x1="473.9" y1="307.3" x2="473.9" y2="311.7" stroke="#000" stroke-width="1.5"/>
<line x1="477.2" y1="307.3" x2="477.2" y2="311.7" stroke="#000" stroke-width="1.5"/>
<line x1="479.0" y1="307.3" x2="479.0" y2="311.7" stroke="#000" stroke-width="1.5"/>
<line x1="511.7" y1="307.3" x2="511.7" y2="311.7" stroke="#000" stroke-width="1.5"/>
<line x1="431.8" y1="215.2" x2="455.9" y2="215.2" stroke="#000" stroke-width="1.5"/>
<line x1="431.8" y1="226.2" x2="454.6" y2="226.2" stroke="#000" stroke-width="1.5" stroke-dasharray="2.6 1.4"/>
<text x="459" y="217.9" font-size="8.1" textLength="39.9" lengthAdjust="spacingAndGlyphs">Low MRD2</text>
<text x="459" y="228.7" font-size="8.1" textLength="42.3" lengthAdjust="spacingAndGlyphs">High MRD2</text>
<text x="449.2" y="240.8" font-size="8.1"><tspan font-style="italic">P</tspan> = .026</text>
</svg></div>
</body></html>
